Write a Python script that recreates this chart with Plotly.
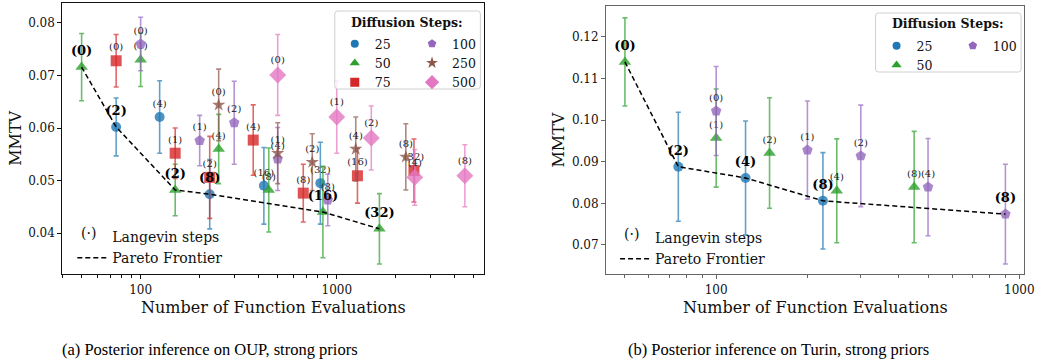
import plotly.graph_objects as go

W, H = 1047, 364

# ---------------- Left panel: OUP, strong priors ----------------
oup_25_nfe = [75, 125, 225, 425, 825]
oup_25_lang = [2, 4, 8, 16, 32]
oup_25_mmtv = [0.0602, 0.0621, 0.0474, 0.0490, 0.0495]
oup_25_err = [0.0055, 0.0069, 0.0066, 0.0073, 0.0078]

oup_50_nfe = [50, 100, 150, 250, 450, 850, 1650]
oup_50_lang = [0, 1, 2, 4, 8, 16, 32]
oup_50_mmtv = [0.0716, 0.0730, 0.0482, 0.0560, 0.0482, 0.0440, 0.0408]
oup_50_err = [0.0064, 0.0051, 0.0049, 0.0066, 0.0080, 0.0087, 0.0067]

oup_75_nfe = [75, 150, 225, 375, 675, 1275, 2475]
oup_75_lang = [0, 1, 2, 4, 8, 16, 32]
oup_75_mmtv = [0.0728, 0.0552, 0.0506, 0.0577, 0.0476, 0.0509, 0.0519]
oup_75_err = [0.0050, 0.0048, 0.0078, 0.0067, 0.0055, 0.0052, 0.0060]

oup_100_nfe = [100, 200, 300, 500, 900]
oup_100_lang = [0, 1, 2, 4, 8]
oup_100_mmtv = [0.0760, 0.0576, 0.0610, 0.0541, 0.0463]
oup_100_err = [0.0051, 0.0048, 0.0079, 0.0060, 0.0049]

oup_250_nfe = [250, 500, 750, 1250, 2250]
oup_250_lang = [0, 1, 2, 4, 8]
oup_250_mmtv = [0.0644, 0.0552, 0.0535, 0.0560, 0.0545]
oup_250_err = [0.0068, 0.0058, 0.0054, 0.0061, 0.0063]

oup_500_nfe = [500, 1000, 1500, 2500, 4500]
oup_500_lang = [0, 1, 2, 4, 8]
oup_500_mmtv = [0.0701, 0.0621, 0.0581, 0.0506, 0.0509]
oup_500_err = [0.0077, 0.0069, 0.0061, 0.0053, 0.0059]

oup_front_nfe = [50, 75, 150, 225, 850, 1650]
oup_front_mmtv = [0.0716, 0.0602, 0.0482, 0.0474, 0.0440, 0.0408]
oup_front_lang = [0, 2, 2, 8, 16, 32]

# ---------------- Right panel: Turin, strong priors ----------------
tur_25_nfe = [75, 125, 225]
tur_25_lang = [2, 4, 8]
tur_25_mmtv = [0.0888, 0.0861, 0.0806]
tur_25_err = [0.0131, 0.0137, 0.0116]

tur_50_nfe = [50, 100, 150, 250, 450]
tur_50_lang = [0, 1, 2, 4, 8]
tur_50_mmtv = [0.1140, 0.0957, 0.0921, 0.0830, 0.0839]
tur_50_err = [0.0106, 0.0118, 0.0133, 0.0125, 0.0134]

tur_100_nfe = [100, 200, 300, 500, 900]
tur_100_lang = [0, 1, 2, 4, 8]
tur_100_mmtv = [0.1022, 0.0928, 0.0914, 0.0839, 0.0774]
tur_100_err = [0.0107, 0.0118, 0.0122, 0.0117, 0.0120]

tur_front_nfe = [50, 75, 125, 225, 900]
tur_front_mmtv = [0.1140, 0.0888, 0.0861, 0.0806, 0.0774]
tur_front_lang = [0, 2, 4, 8, 8]

oup_yticks = [0.04, 0.05, 0.06, 0.07, 0.08]
tur_yticks = [0.07, 0.08, 0.09, 0.10, 0.11, 0.12]
x_ticks = [100, 1000]
x_minor = [40, 50, 60, 70, 80, 90, 200, 300, 400, 500, 600, 700, 800, 900,
           2000, 3000, 4000, 5000]

# ---------------- styling ----------------
COLORS = {25: (31, 119, 180), 50: (44, 160, 44), 75: (214, 39, 40),
          100: (148, 103, 189), 250: (140, 86, 75), 500: (227, 119, 194)}
SYMBOLS = {25: 'circle', 50: 'triangle-up', 75: 'square', 100: 'pentagon',
           250: 'star', 500: 'diamond'}
SIZES = {25: 10, 50: 11, 75: 11, 100: 11, 250: 10, 500: 13}
LEG_SIZES = {25: 8, 50: 9, 75: 9, 100: 9, 250: 9, 500: 11}
SERIF = "DejaVu Serif"


def rgba(c, a):
    return f"rgba({c[0]},{c[1]},{c[2]},{a})"


def px2x(px):
    return px / W


def px2y(py):
    return 1 - py / H


fig = go.Figure()


def add_series(steps, nfe, lang, mmtv, err, front_nfe, front_mmtv, xa, ya, legend):
    front = set(zip(front_nfe, front_mmtv))
    labels = ['' if (n, m) in front else f'({l})' for n, m, l in zip(nfe, mmtv, lang)]
    c = COLORS[steps]
    fig.add_trace(go.Scatter(
        x=nfe, y=mmtv, mode='markers+text', name=str(steps), showlegend=False,
        text=labels, textposition='top center',
        textfont=dict(family=SERIF, size=10, color='#222'),
        marker=dict(symbol=SYMBOLS[steps], size=SIZES[steps], color=rgba(c, 0.8),
                    line=dict(width=0)),
        error_y=dict(type='data', array=err, color=rgba(c, 0.7), thickness=1.6, width=2.5),
        xaxis=xa, yaxis=ya, cliponaxis=False, hoverinfo='x+y'))
    # legend entry (marker only, like the reference legend)
    fig.add_trace(go.Scatter(
        x=[None], y=[None], mode='markers', name=str(steps),
        marker=dict(symbol=SYMBOLS[steps], size=LEG_SIZES[steps], color=rgba(c, 1.0),
                    line=dict(width=0)),
        xaxis=xa, yaxis=ya, legend=legend))


def add_frontier(nfe, mmtv, lang, xa, ya, legend):
    fig.add_trace(go.Scatter(
        x=[None], y=[None], mode='markers', name='Langevin steps',
        marker=dict(opacity=0, size=1), xaxis=xa, yaxis=ya, legend=legend))
    fig.add_trace(go.Scatter(
        x=nfe, y=mmtv, mode='lines', name='Pareto Frontier',
        line=dict(color='black', width=1.5, dash='5px,3px'),
        xaxis=xa, yaxis=ya, legend=legend))
    fig.add_trace(go.Scatter(
        x=nfe, y=mmtv, mode='markers+text', showlegend=False,
        text=[f'<b>({l})</b>' for l in lang], textposition='top center',
        textfont=dict(family=SERIF, size=13, color='black'),
        marker=dict(size=12, opacity=0), xaxis=xa, yaxis=ya, cliponaxis=False))


# left panel
add_series(25, oup_25_nfe, oup_25_lang, oup_25_mmtv, oup_25_err, oup_front_nfe, oup_front_mmtv, 'x', 'y', 'legend')
add_series(50, oup_50_nfe, oup_50_lang, oup_50_mmtv, oup_50_err, oup_front_nfe, oup_front_mmtv, 'x', 'y', 'legend')
add_series(75, oup_75_nfe, oup_75_lang, oup_75_mmtv, oup_75_err, oup_front_nfe, oup_front_mmtv, 'x', 'y', 'legend')
add_series(100, oup_100_nfe, oup_100_lang, oup_100_mmtv, oup_100_err, oup_front_nfe, oup_front_mmtv, 'x', 'y', 'legend2')
add_series(250, oup_250_nfe, oup_250_lang, oup_250_mmtv, oup_250_err, oup_front_nfe, oup_front_mmtv, 'x', 'y', 'legend2')
add_series(500, oup_500_nfe, oup_500_lang, oup_500_mmtv, oup_500_err, oup_front_nfe, oup_front_mmtv, 'x', 'y', 'legend2')
add_frontier(oup_front_nfe, oup_front_mmtv, oup_front_lang, 'x', 'y', 'legend3')

# right panel
add_series(25, tur_25_nfe, tur_25_lang, tur_25_mmtv, tur_25_err, tur_front_nfe, tur_front_mmtv, 'x2', 'y2', 'legend4')
add_series(50, tur_50_nfe, tur_50_lang, tur_50_mmtv, tur_50_err, tur_front_nfe, tur_front_mmtv, 'x2', 'y2', 'legend4')
add_series(100, tur_100_nfe, tur_100_lang, tur_100_mmtv, tur_100_err, tur_front_nfe, tur_front_mmtv, 'x2', 'y2', 'legend5')
add_frontier(tur_front_nfe, tur_front_mmtv, tur_front_lang, 'x2', 'y2', 'legend6')


def xaxis(domain, rng, color):
    return dict(domain=domain, type='log', range=rng, tickmode='array', tickvals=x_ticks,
                ticktext=[str(v) for v in x_ticks], ticks='outside', ticklen=4, tickwidth=1,
                tickcolor=color, showline=True, linecolor=color, linewidth=1.2, mirror=True,
                showgrid=False, zeroline=False,
                tickfont=dict(family=SERIF, size=12, color='#111'),
                minor=dict(tickmode='array', tickvals=x_minor, ticks='outside', ticklen=2.5,
                           tickwidth=0.8, tickcolor=color, showgrid=False))


def yaxis(domain, rng, ticks, color, anchor):
    return dict(domain=domain, range=rng, tickmode='array', tickvals=ticks,
                ticktext=[f'{v:.2f}' for v in ticks], ticks='outside', ticklen=4, tickwidth=1,
                tickcolor=color, showline=True, linecolor=color, linewidth=1.2, mirror=True,
                showgrid=False, zeroline=False, anchor=anchor,
                tickfont=dict(family=SERIF, size=12, color='#111'))


ydom = [px2y(274), px2y(3)]
ydom2 = [px2y(274), px2y(6)]
fig.update_layout(
    width=W, height=H, autosize=False,
    margin=dict(l=0, r=0, t=0, b=0),
    paper_bgcolor='white', plot_bgcolor='white',
    xaxis=xaxis([px2x(63), px2x(489)], [1.601, 3.7525], '#111'),
    yaxis=yaxis(ydom, [0.0322, 0.0838], oup_yticks, '#111', 'x'),
    xaxis2=dict(xaxis([px2x(612), px2x(1034)], [1.637, 3.016], '#666'), anchor='y2'),
    yaxis2=yaxis(ydom2, [0.0630, 0.12745], tur_yticks, '#666', 'x2'),
    showlegend=True,
)

leg_common = dict(bgcolor='rgba(0,0,0,0)', borderwidth=0, xanchor='left', yanchor='top',
                  font=dict(family=SERIF, size=12.5, color='#111'), itemsizing='trace',
                  tracegroupgap=0)
fig.update_layout(
    legend=dict(leg_common, x=px2x(338), y=px2y(29)),
    legend2=dict(leg_common, x=px2x(416), y=px2y(29)),
    legend3=dict(leg_common, x=px2x(73), y=px2y(221), font=dict(family=SERIF, size=14, color='#111')),
    legend4=dict(leg_common, x=px2x(885), y=px2y(31)),
    legend5=dict(leg_common, x=px2x(962), y=px2y(31)),
    legend6=dict(leg_common, x=px2x(621), y=px2y(222), font=dict(family=SERIF, size=14, color='#111')),
)


def rounded_box(x0, y0, x1, y1, r=3):
    rx, ry = r / W, r / H
    X0, X1 = px2x(x0), px2x(x1)
    Y0, Y1 = px2y(y0), px2y(y1)  # Y0 top, Y1 bottom
    path = (f"M {X0+rx},{Y0} L {X1-rx},{Y0} Q {X1},{Y0} {X1},{Y0-ry} "
            f"L {X1},{Y1+ry} Q {X1},{Y1} {X1-rx},{Y1} L {X0+rx},{Y1} "
            f"Q {X0},{Y1} {X0},{Y1+ry} L {X0},{Y0-ry} Q {X0},{Y0} {X0+rx},{Y0} Z")
    return dict(type='path', path=path, xref='paper', yref='paper',
                fillcolor='rgba(255,255,255,0.8)', line=dict(color='#d0d0d0', width=1),
                layer='above')


fig.add_shape(rounded_box(338, 11, 485, 89))
fig.add_shape(rounded_box(884, 13, 1031, 72))

for xp, yp in [(411, 22), (957, 23)]:
    fig.add_annotation(text='<b>Diffusion Steps:</b>', x=px2x(xp), y=px2y(yp),
                       xref='paper', yref='paper', showarrow=False, xanchor='center',
                       yanchor='middle', font=dict(family=SERIF, size=12.5, color='#111'))

# "(·)" marker for Langevin steps in the lower legends
for xp, yp in [(89, 233), (638, 234)]:
    fig.add_annotation(text='(·)', x=px2x(xp), y=px2y(yp), xref='paper', yref='paper',
                       showarrow=False, xanchor='center', yanchor='middle',
                       font=dict(family=SERIF, size=14, color='#111'))

# axis titles
for xp, yp in [(276, 307), (823, 307)]:
    fig.add_annotation(text='Number of Function Evaluations', x=px2x(xp), y=px2y(yp),
                       xref='paper', yref='paper', showarrow=False, xanchor='center',
                       yanchor='middle', font=dict(family=SERIF, size=16, color='#111'))
for xp, yp in [(15, 138), (563, 140)]:
    fig.add_annotation(text='MMTV', x=px2x(xp), y=px2y(yp), xref='paper', yref='paper',
                       showarrow=False, xanchor='center', yanchor='middle', textangle=-90,
                       font=dict(family=SERIF, size=16, color='#111'))

# captions
for txt, xp in [('(a) Posterior inference on OUP, strong priors', 212),
                ('(b) Posterior inference on Turin, strong priors', 786)]:
    fig.add_annotation(text=txt, x=px2x(xp), y=px2y(349), xref='paper', yref='paper',
                       showarrow=False, xanchor='center', yanchor='middle',
                       font=dict(family='Liberation Serif', size=16.5, color='black'))

fig.write_html("out.html")
